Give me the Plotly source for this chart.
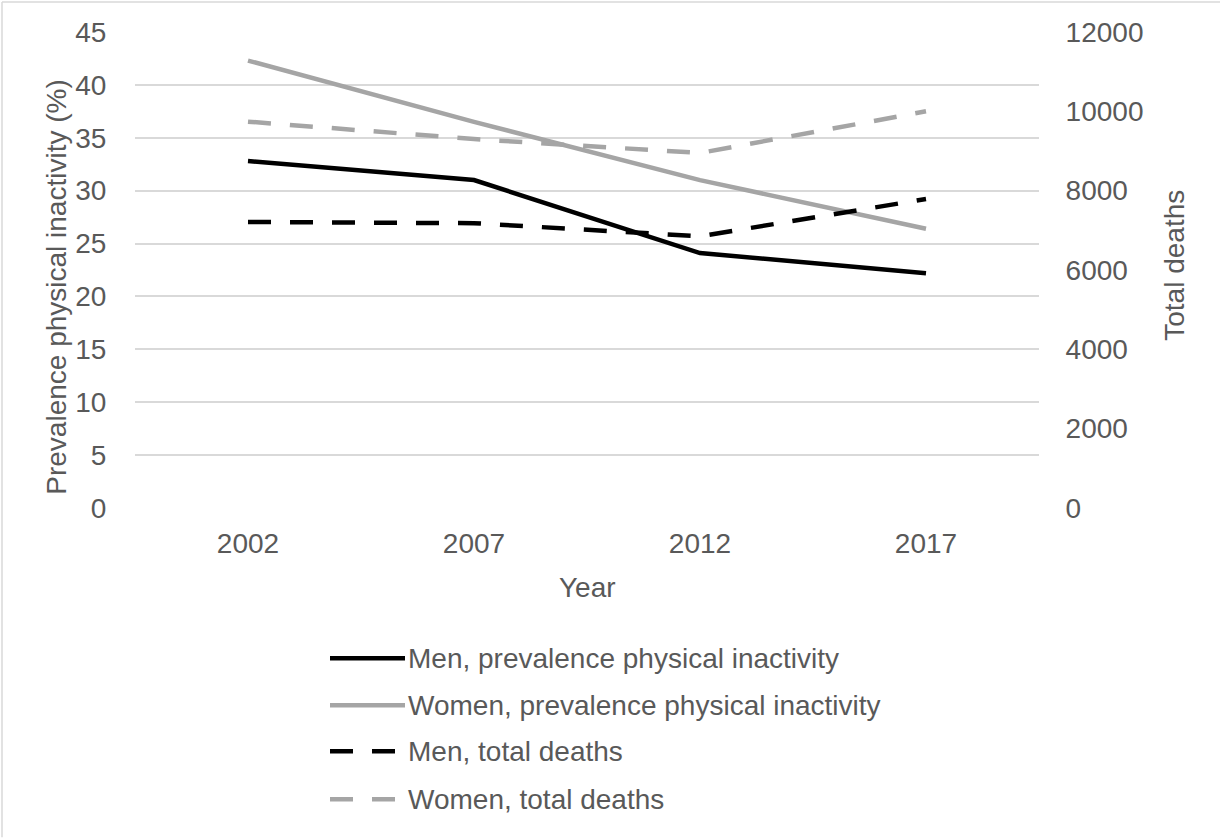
import plotly.graph_objects as go

# Survey years
years = ["2002", "2007", "2012", "2017"]

# Prevalence of physical inactivity (%)
men_inactivity = [32.8, 31.0, 24.1, 22.2]
women_inactivity = [42.3, 36.5, 31.0, 26.4]

# Total deaths
men_deaths = [7210, 7180, 6850, 7790]
women_deaths = [9740, 9300, 8950, 10000]

W, H = 1220, 838
PLOT_L, PLOT_R, PLOT_T, PLOT_B = 135, 1039, 32, 508.5

TEXT = "#595959"
GRID = "#D9D9D9"
BLACK = "#000000"
GREY = "#A5A5A5"
FONT = "Liberation Sans, Arial, sans-serif"
FS = 28
DASH = "23px,19px"


def px(x):
    return (x - PLOT_L) / (PLOT_R - PLOT_L)


def py(y):
    return (PLOT_B - y) / (PLOT_B - PLOT_T)


series = [
    ("Men, prevalence physical inactivity", men_inactivity, "y", BLACK, "solid"),
    ("Women, prevalence physical inactivity", women_inactivity, "y", GREY, "solid"),
    ("Men, total deaths", men_deaths, "y2", BLACK, DASH),
    ("Women, total deaths", women_deaths, "y2", GREY, DASH),
]

fig = go.Figure()
for name, vals, axis, color, dash in series:
    fig.add_trace(go.Scatter(
        x=years, y=vals, name=name, yaxis=axis, mode="lines",
        line=dict(color=color, width=4.5, dash=dash),
        showlegend=False,
    ))

# Legend drawn as sample strokes plus labels
shapes = []
annotations = []
legend_rows = [659, 706, 752, 800]
for (name, vals, axis, color, dash), ry in zip(series, legend_rows):
    shapes.append(dict(
        type="line", xref="paper", yref="paper",
        x0=px(330), x1=px(405), y0=py(ry), y1=py(ry),
        line=dict(color=color, width=4.5, dash=dash),
    ))
    annotations.append(dict(
        text=name, xref="paper", yref="paper", x=px(406), y=py(ry),
        xanchor="left", yanchor="middle", showarrow=False,
        font=dict(family=FONT, size=FS, color=TEXT),
    ))

# Axis titles
annotations += [
    dict(text="Prevalence physical inactivity (%)", xref="paper", yref="paper",
         x=px(57), y=py(287), textangle=-90, showarrow=False,
         xanchor="center", yanchor="middle",
         font=dict(family=FONT, size=FS, color=TEXT)),
    dict(text="Total deaths", xref="paper", yref="paper",
         x=px(1175), y=py(266), textangle=-90, showarrow=False,
         xanchor="center", yanchor="middle",
         font=dict(family=FONT, size=FS, color=TEXT)),
    dict(text="Year", xref="paper", yref="paper",
         x=px(587), y=py(588), showarrow=False,
         xanchor="center", yanchor="middle",
         font=dict(family=FONT, size=FS, color=TEXT)),
]

# Chart area border (left and top edges)
shapes += [
    dict(type="line", xref="paper", yref="paper", x0=px(2), x1=px(2),
         y0=py(2), y1=py(838), line=dict(color=GRID, width=1.5)),
    dict(type="line", xref="paper", yref="paper", x0=px(2), x1=px(1220),
         y0=py(2), y1=py(2), line=dict(color=GRID, width=1.5)),
]

fig.update_layout(
    width=W, height=H,
    margin=dict(l=PLOT_L, r=W - PLOT_R, t=PLOT_T, b=H - PLOT_B),
    paper_bgcolor="white", plot_bgcolor="white",
    font=dict(family=FONT, size=FS, color=TEXT),
    showlegend=False,
    xaxis=dict(
        type="category", range=[-0.5, 3.5],
        showgrid=False, zeroline=False, showline=False,
        ticks="outside", ticklen=10, tickcolor="rgba(0,0,0,0)",
        tickfont=dict(family=FONT, size=FS, color=TEXT),
    ),
    yaxis=dict(
        range=[0, 45], dtick=5, showgrid=True, gridcolor=GRID, gridwidth=1.5,
        zeroline=False, showline=False,
        ticks="outside", ticklen=22, tickcolor="rgba(0,0,0,0)",
        tickfont=dict(family=FONT, size=FS, color=TEXT),
    ),
    yaxis2=dict(
        range=[0, 12000], dtick=2000, tickformat="d", overlaying="y", side="right",
        showgrid=False, zeroline=False, showline=False,
        ticks="outside", ticklen=20, tickcolor="rgba(0,0,0,0)",
        tickfont=dict(family=FONT, size=FS, color=TEXT),
    ),
    shapes=shapes,
    annotations=annotations,
)

fig.write_html("out.html")
